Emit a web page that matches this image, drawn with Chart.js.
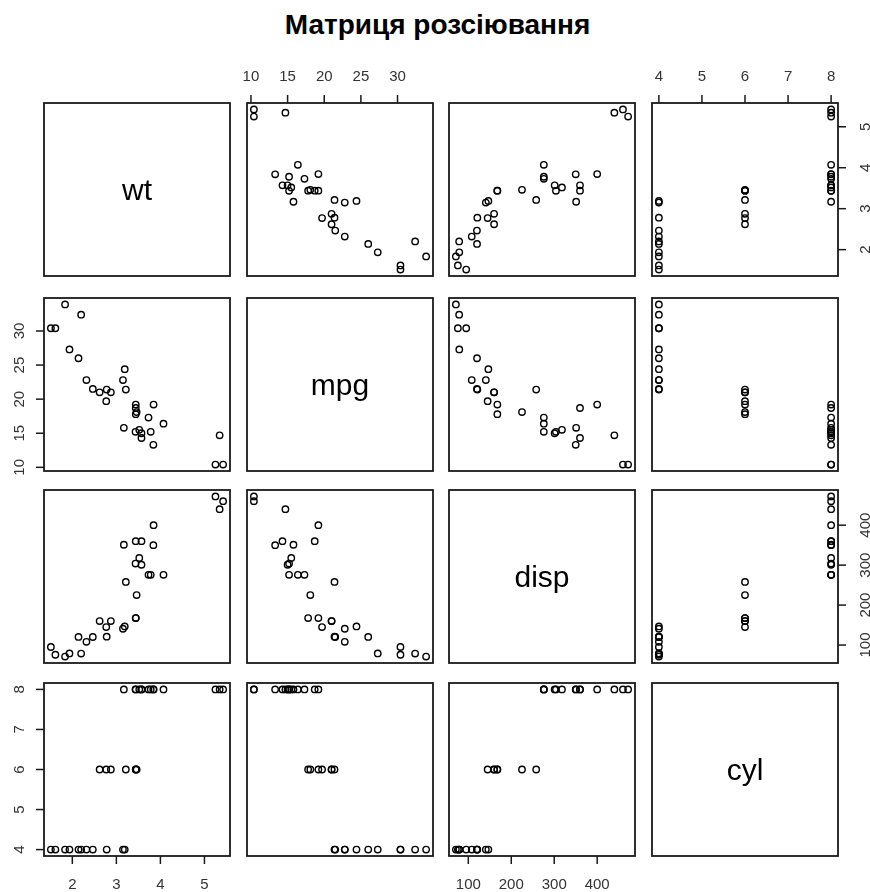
<!DOCTYPE html>
<html>
<head>
<meta charset="utf-8">
<script src="https://cdn.jsdelivr.net/npm/chart.js@4"></script>
<style>
    body {margin: 0; background: #fff; overflow: hidden; width: 870px; height: 892px; position: relative;}
    .title {position: absolute; left: 0; top: 11px; width: 875px; text-align: center;
        font: bold 28px "Liberation Sans", Arial, sans-serif; line-height: 28px; color: #000;}
    canvas {position: absolute;}
</style>
</head>
<body>
<div class="title">Матриця розсіювання</div>
<script>
    // mtcars columns shown in the matrix
    const wt = [2.620, 2.875, 2.320, 3.215, 3.440, 3.460, 3.570, 3.190, 3.150, 3.440, 3.440, 4.070, 3.730, 3.780, 5.250, 5.424,
        5.345, 2.200, 1.615, 1.835, 2.465, 3.520, 3.435, 3.840, 3.845, 1.935, 2.140, 1.513, 3.170, 2.770, 3.570, 2.780];
    const mpg = [21.0, 21.0, 22.8, 21.4, 18.7, 18.1, 14.3, 24.4, 22.8, 19.2, 17.8, 16.4, 17.3, 15.2, 10.4, 10.4,
        14.7, 32.4, 30.4, 33.9, 21.5, 15.5, 15.2, 13.3, 19.2, 27.3, 26.0, 30.4, 15.8, 19.7, 15.0, 21.4];
    const disp = [160, 160, 108, 258, 360, 225, 360, 146.7, 140.8, 167.6, 167.6, 275.8, 275.8, 275.8, 472, 460,
        440, 78.7, 75.7, 71.1, 120.1, 318, 304, 350, 400, 79, 120.3, 95.1, 351, 145, 301, 121];
    const cyl = [6, 6, 4, 6, 8, 6, 8, 4, 4, 6, 6, 8, 8, 8, 8, 8, 8, 4, 4, 4, 4, 8, 8, 8, 8, 4, 4, 4, 8, 6, 8, 4];

    const varNames = ["wt", "mpg", "disp", "cyl"];
    const wtTicks = [2, 3, 4, 5];
    const mpgTicks = [10, 15, 20, 25, 30];
    const dispTicks = [100, 200, 300, 400];
    const cylTicks = [4, 5, 6, 7, 8];

    const columns = [wt, mpg, disp, cyl];
    const tickSets = [wtTicks, mpgTicks, dispTicks, cylTicks];

    const colLeft = [44, 247, 449, 652];
    const rowTop = [103, 298, 490, 683];
    const panelW = 186;
    const panelH = 173;
    const M = 50;
    const tickFont = '15px "Liberation Sans", Arial, sans-serif';

    // R style range: data range stretched by 4% on each side
    const rangeOf = (values) => {
        const lo = Math.min(...values);
        const hi = Math.max(...values);
        const pad = (hi - lo) * 0.04;
        return {min: lo - pad, max: hi + pad};
    }

    // which outer axes R draws for a panel
    const sidesFor = (row, col) => {
        const sides = [];
        if (row === 0 && col % 2 === 1) sides.push("top");
        if (row === 3 && col % 2 === 0) sides.push("bottom");
        if (col === 0 && row % 2 === 1) sides.push("left");
        if (col === 3 && row % 2 === 0) sides.push("right");
        return sides;
    }

    const panelPlugin = (row, col) => ({
        id: "panelFrame",
        afterDraw(chart) {
            const ctx = chart.ctx;
            const area = chart.chartArea;
            ctx.save();
            ctx.strokeStyle = "#1a1a1a";
            ctx.lineWidth = 1.8;
            ctx.strokeRect(area.left, area.top, area.right - area.left, area.bottom - area.top);

            if (row === col) {
                ctx.fillStyle = "#000";
                ctx.font = '30px "Liberation Sans", Arial, sans-serif';
                ctx.textAlign = "center";
                ctx.textBaseline = "middle";
                ctx.fillText(varNames[row], (area.left + area.right) / 2, (area.top + area.bottom) / 2 + 2);
            }

            ctx.font = tickFont;
            ctx.fillStyle = "#333";
            ctx.lineWidth = 1.5;
            ctx.textAlign = "center";
            ctx.textBaseline = "middle";
            sidesFor(row, col).forEach(side => {
                if (side === "top" || side === "bottom") {
                    tickSets[col].forEach(v => {
                        const px = chart.scales.x.getPixelForValue(v);
                        const y0 = side === "top" ? area.top : area.bottom;
                        const dir = side === "top" ? -1 : 1;
                        ctx.beginPath();
                        ctx.moveTo(px, y0);
                        ctx.lineTo(px, y0 + dir * 8);
                        ctx.stroke();
                        ctx.fillText(String(v), px, y0 + dir * (side === "top" ? 26 : 29));
                    });
                } else {
                    tickSets[row].forEach(v => {
                        const py = chart.scales.y.getPixelForValue(v);
                        const x0 = side === "left" ? area.left : area.right;
                        const dir = side === "left" ? -1 : 1;
                        ctx.beginPath();
                        ctx.moveTo(x0, py);
                        ctx.lineTo(x0 + dir * 8, py);
                        ctx.stroke();
                        ctx.save();
                        ctx.translate(x0 + dir * (side === "left" ? 24 : 28), py);
                        ctx.rotate(-Math.PI / 2);
                        ctx.fillText(String(v), 0, 0);
                        ctx.restore();
                    });
                }
            });
            ctx.restore();
        }
    });

    const buildPanel = (row, col) => {
        const canvas = document.createElement("canvas");
        canvas.width = panelW + 2 * M;
        canvas.height = panelH + 2 * M;
        canvas.style.left = (colLeft[col] - M) + "px";
        canvas.style.top = (rowTop[row] - M) + "px";
        document.body.appendChild(canvas);

        const xs = columns[col];
        const ys = columns[row];
        const datasets = row === col ? [] : [{
            data: xs.map((x, k) => ({x: x, y: ys[k]})),
            pointStyle: "circle",
            pointRadius: 3.2,
            pointHoverRadius: 3.2,
            pointBorderWidth: 1.4,
            pointBorderColor: "#000",
            pointBackgroundColor: "rgba(0,0,0,0)",
            showLine: false,
            clip: false,
        }];

        new Chart(canvas.getContext("2d"), {
            type: "scatter",
            data: {datasets: datasets},
            options: {
                responsive: false,
                animation: false,
                events: [],
                layout: {padding: M},
                plugins: {legend: {display: false}, tooltip: {enabled: false}},
                scales: {
                    x: {type: "linear", display: false, ...rangeOf(xs)},
                    y: {type: "linear", display: false, ...rangeOf(ys)},
                },
            },
            plugins: [panelPlugin(row, col)],
        });
    }

    for (let row = 0; row < 4; row++) {
        for (let col = 0; col < 4; col++) {
            buildPanel(row, col);
        }
    }
</script>
</body>
</html>
